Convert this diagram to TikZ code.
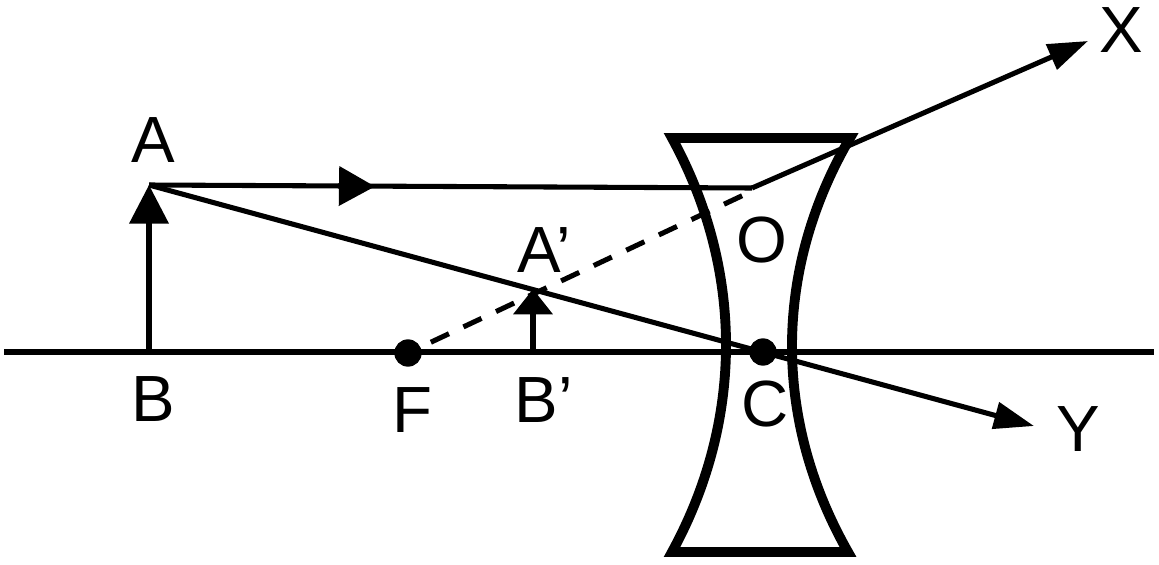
\documentclass[tikz,border=0pt]{standalone}
\usepackage{fontspec}
\setmainfont{Liberation Sans}
\usetikzlibrary{arrows.meta}
\tikzset{
 px/.style={x=0.75pt,y=-0.75pt},
 ray/.style={line width=3.8pt,black},
 lens/.style={line width=7.4pt,black,line join=miter},
 lbl/.style={font=\fontsize{49}{51}\selectfont,inner sep=0pt,black,anchor=base},
 tip/.style={-{Triangle[length=30pt,width=20pt]}},
 uptip/.style={-{Triangle[length=29pt,width=29pt]}},
 imtip/.style={-{Triangle[length=19pt,width=29pt]}},
 midtip/.style={-{Triangle[length=27pt,width=29pt]}},
 dotn/.style={circle,fill=black,inner sep=0pt,minimum size=20.5pt},
}
\begin{document}
\begin{tikzpicture}[px]
\useasboundingbox (0,0) rectangle (1159,564);
% coordinates
\coordinate (axisL) at (4,352);
\coordinate (axisR) at (1154,352);
\coordinate (A) at (149,185);
\coordinate (B) at (149,352);
\coordinate (Ap) at (533,289);
\coordinate (Bp) at (533,352);
\coordinate (O) at (752,188);
\coordinate (Oe) at (750,192);
\coordinate (X) at (1088,41);
\coordinate (Y) at (1034,426);
\coordinate (Ms) at (338,186);
\coordinate (Me) at (375,186.5);
\node[dotn] (F) at (408,353) {};
\node[dotn] (C) at (763,352) {};
% axis
\draw[ray,line width=3.9pt] (axisL) -- (axisR);
% lens
\draw[lens] (672,138) -- (850,138)
  .. controls (773,270) and (773,420) .. (848,552)
  -- (672,552)
  .. controls (744,420) and (744,270) .. (672,138) -- cycle;
% object and image
\draw[ray] (B) -- (149,215);
\draw[ray,uptip] (149,225) -- (A);
\draw[ray] (Bp) -- (533,310);
\draw[ray,imtip] (533,315) -- (Ap);
% rays
\draw[ray] (A) -- (O);
\draw[ray,midtip] (Ms) -- (Me);
\draw[ray,tip] (A) -- (Y);
\draw[ray,shorten <=8.5pt,dash pattern=on 15pt off 12pt] (F) -- (Oe);
\draw[ray,tip] (O) -- (X);
% labels
\node[lbl] (lA) at (153,162) {A};
\node[lbl] (lB) at (153,421) {B};
\node[lbl] (lF) at (412,432) {F};
\node[lbl] (lBp) at (544,422) {B’};
\node[lbl] (lAp) at (544,272) {A’};
\node[lbl] (lO) at (762,262) {O};
\node[lbl] (lC) at (765,426) {C};
\node[lbl] (lX) at (1121,52) {X};
\node[lbl] (lY) at (1078,451) {Y};
\end{tikzpicture}
\end{document}
